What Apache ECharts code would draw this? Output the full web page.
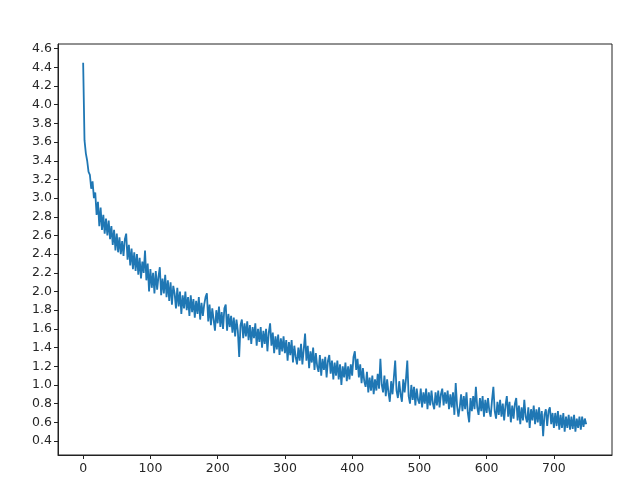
<!DOCTYPE html>
<html>
<head>
<meta charset="utf-8">
<script src="https://cdn.jsdelivr.net/npm/echarts@6/dist/echarts.min.js"></script>
<style>
html,body{margin:0;padding:0;background:#fff;}
#chart{width:640px;height:496px;}
</style>
</head>
<body>
<div id="chart"></div>
<script>
// Loss values sampled every 2 iterations (iteration 0, 2, 4, ... 748)
const sampleEvery = 2;
const loss = [
4.45,3.62,3.48,3.40,3.28,3.25,3.10,3.18,3.00,3.06,
2.82,2.96,2.70,2.90,2.66,2.82,2.62,2.78,2.60,2.76,
2.56,2.70,2.50,2.66,2.44,2.62,2.42,2.58,2.40,2.54,
2.38,2.56,2.62,2.34,2.50,2.28,2.46,2.24,2.42,2.22,
2.40,2.18,2.36,2.14,2.32,2.20,2.44,2.12,2.30,2.00,
2.24,2.04,2.20,1.98,2.22,2.02,2.16,2.26,1.96,2.14,
1.98,2.18,1.94,2.12,1.90,2.10,1.86,2.06,1.98,1.82,
2.04,1.84,2.00,1.76,1.96,1.82,2.00,1.80,1.94,1.74,
1.96,1.78,1.92,1.72,1.90,1.76,1.94,1.70,1.88,1.74,
1.86,1.94,1.98,1.68,1.86,1.64,1.82,1.70,1.58,1.80,
1.66,1.84,1.62,1.78,1.60,1.82,1.86,1.58,1.76,1.62,
1.74,1.56,1.72,1.52,1.70,1.58,1.30,1.64,1.70,1.50,
1.66,1.52,1.68,1.48,1.64,1.44,1.62,1.50,1.66,1.42,
1.60,1.46,1.62,1.40,1.58,1.44,1.60,1.36,1.56,1.66,
1.42,1.56,1.34,1.52,1.38,1.54,1.32,1.50,1.36,1.52,
1.34,1.48,1.26,1.46,1.32,1.48,1.24,1.42,1.30,1.22,
1.40,1.26,1.44,1.22,1.38,1.55,1.26,1.42,1.18,1.36,
1.24,1.40,1.16,1.34,1.20,1.14,1.32,1.10,1.28,1.16,
1.30,1.08,1.26,1.32,1.12,1.26,1.06,1.24,1.10,1.26,
1.06,1.22,1.00,1.20,1.08,1.24,1.04,1.20,1.06,1.22,
1.10,1.30,1.36,1.16,1.28,1.08,1.22,1.02,1.18,1.04,
0.98,1.14,0.92,1.08,0.94,1.10,0.90,1.06,0.94,1.12,
0.96,1.28,1.00,0.92,1.10,0.88,1.06,0.92,0.82,1.04,
0.90,1.08,1.26,0.94,0.86,1.04,0.90,0.82,1.06,0.92,
1.06,1.26,0.88,0.80,1.00,0.84,0.98,0.78,0.96,0.84,
0.80,0.96,0.76,0.92,0.80,0.96,0.74,0.92,0.78,0.94,
0.80,0.74,0.92,0.78,0.94,0.76,0.90,0.96,0.78,0.92,
0.80,0.94,0.74,0.90,0.76,0.92,0.68,1.02,0.78,0.66,
0.76,0.90,0.72,0.88,0.74,0.92,0.70,0.60,0.86,0.72,
0.88,0.74,0.98,0.76,0.68,0.86,0.72,0.88,0.66,0.84,
0.70,0.86,0.72,0.66,0.84,0.98,0.72,0.64,0.82,0.68,
0.84,0.66,0.80,0.62,0.78,0.88,0.66,0.82,0.60,0.78,
0.64,0.80,0.86,0.62,0.78,0.58,0.76,0.62,0.84,0.66,
0.60,0.76,0.54,0.74,0.62,0.78,0.58,0.74,0.60,0.76,
0.56,0.72,0.45,0.68,0.74,0.56,0.72,0.76,0.58,0.70,
0.54,0.70,0.56,0.72,0.52,0.68,0.54,0.70,0.50,0.66,
0.54,0.68,0.52,0.66,0.53,0.68,0.50,0.64,0.54,0.66,
0.52,0.66,0.55,0.64,0.58
];
const xTicks = [0,100,200,300,400,500,600,700];
const yTicks = [0.4,0.6,0.8,1.0,1.2,1.4,1.6,1.8,2.0,2.2,2.4,2.6,2.8,3.0,3.2,3.4,3.6,3.8,4.0,4.2,4.4,4.6];

const points = loss.map((v, i) => [i * sampleEvery, v]);

const chart = echarts.init(document.getElementById('chart'), null, {renderer: 'canvas'});
const axisColor = '#222';
const labelFont = {fontFamily: 'DejaVu Sans', fontSize: 12.5, color: '#262626'};
chart.setOption({
  animation: false,
  backgroundColor: '#fff',
  grid: {left: 58, top: 44, right: 28, bottom: 41, show: true, borderColor: axisColor, borderWidth: 1, backgroundColor: 'transparent'},
  xAxis: {
    type: 'value', min: -37.4, max: 786.4,
    splitLine: {show: false},
    axisLine: {show: true, onZero: false, lineStyle: {color: axisColor, width: 1}},
    axisTick: {show: true, length: 4, customValues: xTicks, lineStyle: {color: axisColor}},
    axisLabel: Object.assign({customValues: xTicks, margin: 7, formatter: v => String(Math.round(v))}, labelFont)
  },
  yAxis: {
    type: 'value', min: 0.25, max: 4.65,
    splitLine: {show: false},
    axisLine: {show: true, onZero: false, lineStyle: {color: axisColor, width: 1}},
    axisTick: {show: true, length: 4, customValues: yTicks, lineStyle: {color: axisColor}},
    axisLabel: Object.assign({customValues: yTicks, margin: 6, formatter: v => Number(v).toFixed(1)}, labelFont)
  },
  series: [{
    type: 'line', data: points, showSymbol: false, symbol: 'none',
    lineStyle: {color: '#1f77b4', width: 1.8}, clip: true
  }]
});
</script>
</body>
</html>
